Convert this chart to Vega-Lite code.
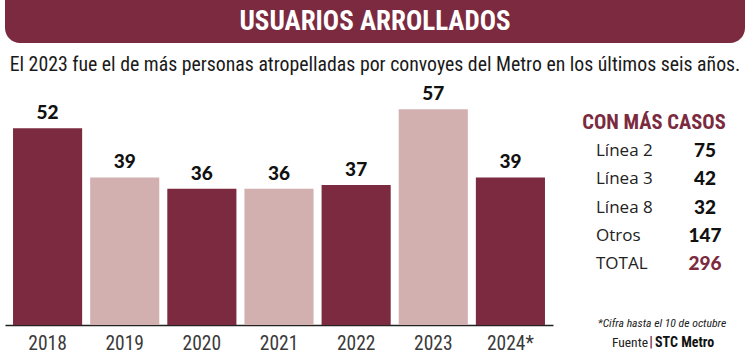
{
  "$schema": "https://vega.github.io/schema/vega-lite/v6.json",
  "background": "white",
  "padding": {"left": 5, "right": 5, "top": 0, "bottom": 0},
  "config": {"view": {"stroke": null}},
  "bounds": "flush",
  "spacing": 12,
  "vconcat": [
    {
      "width": 740,
      "height": 86,
      "data": {"values": [
        {"parte": "titulo", "texto": "USUARIOS ARROLLADOS"},
        {"parte": "subtitulo", "texto": "El 2023 fue el de más personas atropelladas por convoyes del Metro en los últimos seis años."}
      ]},
      "encoding": {
        "y": {"field": "parte", "type": "nominal", "scale": {"type": "band", "domain": ["titulo", "subtitulo"], "paddingInner": 0, "paddingOuter": 0}, "axis": null}
      },
      "layer": [
        {
          "transform": [{"filter": "datum.parte === 'titulo'"}],
          "mark": {"type": "bar", "color": "#7b2a40", "cornerRadiusBottomLeft": 15, "cornerRadiusBottomRight": 15}
        },
        {
          "transform": [{"filter": "datum.parte === 'titulo'"}],
          "mark": {"type": "text", "color": "white", "font": "Roboto Condensed", "fontWeight": "bold", "fontSize": 27},
          "encoding": {"text": {"field": "texto"}}
        },
        {
          "transform": [{"filter": "datum.parte === 'subtitulo'"}],
          "mark": {"type": "text", "color": "#1a1a1a", "font": "Roboto Condensed", "fontSize": 19.8},
          "encoding": {"text": {"field": "texto"}}
        }
      ]
    },
    {
      "bounds": "flush",
      "spacing": 43,
      "hconcat": [
        {
          "width": 548,
          "height": 227,
          "data": {"values": [
            {"anio": "2018", "casos": 52},
            {"anio": "2019", "casos": 39},
            {"anio": "2020", "casos": 36},
            {"anio": "2021", "casos": 36},
            {"anio": "2022", "casos": 37},
            {"anio": "2023", "casos": 57},
            {"anio": "2024*", "casos": 39}
          ]},
          "encoding": {
            "x": {"field": "anio", "type": "ordinal", "sort": null,
              "scale": {"paddingInner": 0.104, "paddingOuter": 0.104},
              "axis": {"title": null, "ticks": false, "domainColor": "#222", "domainWidth": 1.6, "labelFont": "Roboto Condensed", "labelFontSize": 19.5, "labelColor": "#3a3a3a", "labelPadding": 9, "labelAngle": 0}},
            "y": {"field": "casos", "type": "quantitative", "scale": {"domain": [0, 60]}, "axis": null}
          },
          "layer": [
            {
              "mark": {"type": "bar"},
              "encoding": {"color": {"field": "anio", "type": "ordinal", "scale": {"range": ["#7b2a40", "#d2b0b0"]}, "legend": null}}
            },
            {
              "mark": {"type": "text", "baseline": "bottom", "dy": -5, "font": "Lato", "fontWeight": 900, "fontSize": 19, "color": "#111"},
              "encoding": {"text": {"field": "casos"}}
            }
          ]
        },
        {
          "bounds": "flush",
          "spacing": 24,
          "vconcat": [
            {
              "width": 132,
              "height": 191,
              "data": {"values": [
                {"linea": "Línea 2", "casos": 75},
                {"linea": "Línea 3", "casos": 42},
                {"linea": "Línea 8", "casos": 32},
                {"linea": "Otros", "casos": 147},
                {"linea": "TOTAL", "casos": 296}
              ]},
              "layer": [
                {
                  "data": {"values": [{"encabezado": "CON MÁS CASOS"}]},
                  "mark": {"type": "text", "font": "Roboto Condensed", "fontWeight": "bold", "fontSize": 20.5, "color": "#7b2a40", "dx": -8},
                  "encoding": {
                    "y": {"field": "encabezado", "type": "nominal", "scale": {"type": "point", "domain": ["CON MÁS CASOS", "Línea 2", "Línea 3", "Línea 8", "Otros", "TOTAL"], "padding": 0.887}, "axis": null},
                    "text": {"field": "encabezado"}
                  }
                },
                {
                  "mark": {"type": "text", "align": "left", "font": "Open Sans", "fontSize": 17, "color": "#222"},
                  "encoding": {
                    "x": {"datum": "Línea", "type": "nominal", "scale": {"type": "point", "domain": ["Línea", "Casos"], "padding": 0.106, "align": 0}, "axis": null},
                    "y": {"field": "linea", "type": "nominal", "scale": {"type": "point", "domain": ["CON MÁS CASOS", "Línea 2", "Línea 3", "Línea 8", "Otros", "TOTAL"], "padding": 0.887}, "axis": null},
                    "text": {"field": "linea"}
                  }
                },
                {
                  "mark": {"type": "text", "align": "center", "font": "Lato", "fontWeight": 900, "fontSize": 19},
                  "encoding": {
                    "x": {"datum": "Casos", "type": "nominal", "scale": {"type": "point", "domain": ["Línea", "Casos"], "padding": 0.106, "align": 0}, "axis": null},
                    "y": {"field": "linea", "type": "nominal", "scale": {"type": "point", "domain": ["CON MÁS CASOS", "Línea 2", "Línea 3", "Línea 8", "Otros", "TOTAL"], "padding": 0.887}, "axis": null},
                    "text": {"field": "casos"},
                    "color": {"condition": {"test": "datum.linea === 'TOTAL'", "value": "#7b2a40"}, "value": "#111"}
                  }
                }
              ]
            },
            {
              "width": 132,
              "height": 40,
              "data": {"values": [
                {"tipo": "nota", "texto": "*Cifra hasta el 10 de octubre"},
                {"tipo": "fuente", "etiqueta": "Fuente", "texto": "STC Metro"}
              ]},
              "encoding": {
                "y": {"field": "tipo", "type": "nominal", "scale": {"type": "point", "domain": ["nota", "fuente"], "padding": 0.5}, "axis": null}
              },
              "layer": [
                {
                  "transform": [{"filter": "datum.tipo === 'nota'"}],
                  "mark": {"type": "text", "font": "Roboto Condensed", "fontStyle": "italic", "fontSize": 11.7, "color": "#222"},
                  "encoding": {"text": {"field": "texto"}}
                },
                {
                  "transform": [{"filter": "datum.tipo === 'fuente'"}],
                  "mark": {"type": "text", "align": "right", "dx": -14, "font": "Roboto Condensed", "fontSize": 13.5, "color": "#222"},
                  "encoding": {"text": {"field": "etiqueta"}}
                },
                {
                  "transform": [{"filter": "datum.tipo === 'fuente'"}],
                  "mark": {"type": "text", "align": "center", "dx": -11, "text": "|", "font": "Roboto Condensed", "fontWeight": "bold", "fontSize": 14.5, "color": "#7b2a40"},
                  "encoding": {}
                },
                {
                  "transform": [{"filter": "datum.tipo === 'fuente'"}],
                  "mark": {"type": "text", "align": "left", "dx": -7, "font": "Roboto Condensed", "fontWeight": "bold", "fontSize": 14, "color": "#111"},
                  "encoding": {"text": {"field": "texto"}}
                }
              ]
            }
          ]
        }
      ]
    }
  ]
}
